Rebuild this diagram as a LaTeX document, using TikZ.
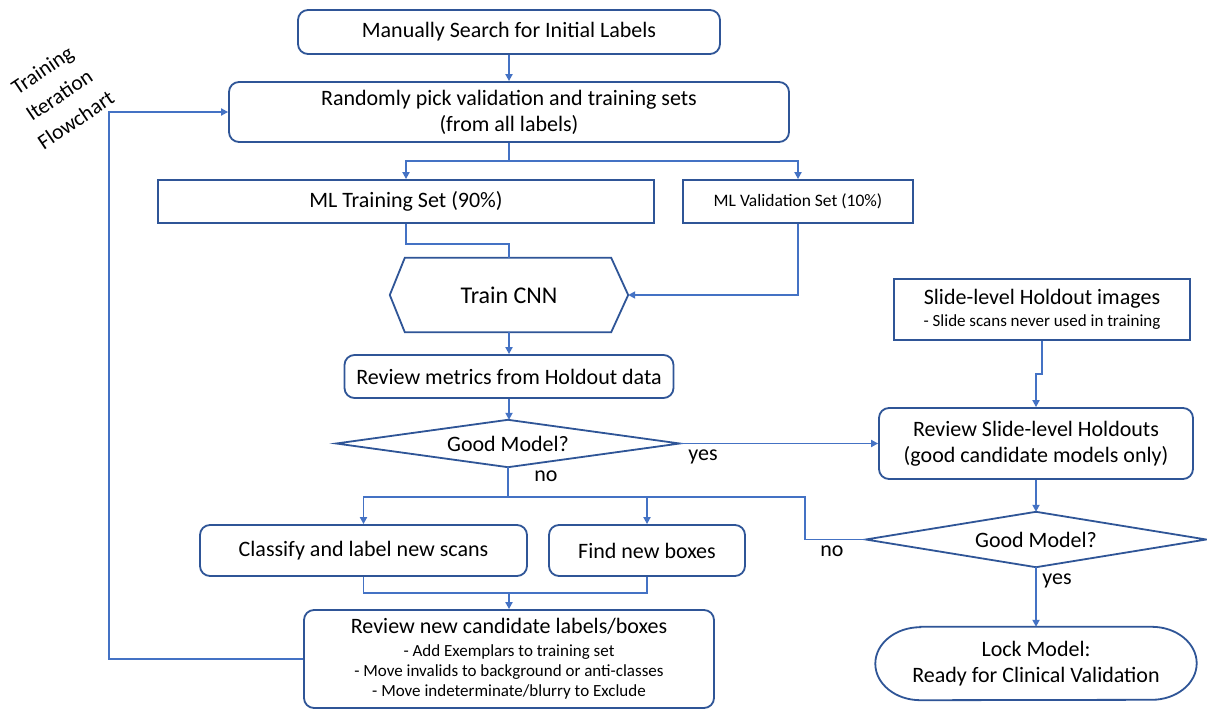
\documentclass[tikz,border=0pt]{standalone}
\usepackage{fontspec}
\setmainfont{Carlito}
\usetikzlibrary{arrows.meta,calc}
\definecolor{boxblue}{HTML}{2F5597}
\definecolor{linkblue}{HTML}{4472C4}
\newcommand{\bigtxt}{\fontsize{22}{26}\selectfont}
\newcommand{\smltxt}{\fontsize{17}{19}\selectfont}
\begin{document}
\begin{tikzpicture}[x=1pt,y=-1pt,
  every node/.style={inner sep=0pt,align=center,font=\bigtxt},
  rbox/.style={draw=boxblue,line width=1.8pt,rounded corners=10pt,fill=white},
  sbox/.style={draw=boxblue,line width=1.8pt,fill=white},
  ghost/.style={draw=none},
  shapeline/.style={draw=boxblue,line width=1.8pt,line join=miter},
  conn/.style={draw=linkblue,line width=1.8pt},
  arr/.style={conn,-{Triangle[length=7pt,width=7pt]}},
  lbl/.style={font=\bigtxt}]
\useasboundingbox (0,0) rectangle (1207,711);
\fill[white] (0,0) rectangle (1207,711);

\node[lbl,rotate=34,align=center,font=\fontsize{21.5}{30}\selectfont] (title) at (59,95) {Training\\Iteration\\Flowchart};

\node[rbox,minimum width=422,minimum height=44] (n1) at (509,32) {Manually Search for Initial Labels};
\node[rbox,minimum width=560,minimum height=60] (n2) at (509,112) {Randomly pick validation and training sets\\(from all labels)};
\node[sbox,minimum width=496,minimum height=43] (n3) at (406,201.5) {ML Training Set (90\%)};
\node[sbox,minimum width=230,minimum height=43,font=\fontsize{17.5}{20}\selectfont] (n4) at (798,201.5) {ML Validation Set (10\%)};
\node[ghost,minimum width=238,minimum height=74,font=\fontsize{24}{28}\selectfont] (cnn) at (509,295) {Train CNN};
\draw[shapeline] (cnn.west) -- ([xshift=15pt]cnn.north west) -- ([xshift=-17pt]cnn.north east) -- (cnn.east) -- ([xshift=-17pt]cnn.south east) -- ([xshift=15pt]cnn.south west) -- cycle;
\node[rbox,minimum width=329,minimum height=43] (rm) at (509,376.5) {Review metrics from Holdout data};
\node[ghost,minimum width=343,minimum height=47] (d1) at (508,443.5) {Good Model?};
\draw[shapeline] (d1.west) -- (d1.north) -- (d1.east) -- (d1.south) -- cycle;
\node[rbox,minimum width=327,minimum height=51] (cl) at (363.5,550.5) {Classify and label new scans};
\node[rbox,minimum width=196,minimum height=51] (fb) at (647,550.5) {Find new boxes};
\node[rbox,minimum width=410,minimum height=98] (rc) at (509,659) {Review new candidate labels/boxes\\[-3pt]
  {\smltxt - Add Exemplars to training set}\\[-6pt]
  {\smltxt - Move invalids to background or anti-classes}\\[-6pt]
  {\smltxt - Move indeterminate/blurry to Exclude}};
\node[sbox,minimum width=296,minimum height=61] (sh) at (1042,309.5) {Slide-level Holdout images\\[-4pt]{\smltxt - Slide scans never used in training}};
\node[rbox,minimum width=314,minimum height=71] (rs) at (1036,443.5) {Review Slide-level Holdouts\\(good candidate models only)};
\node[ghost,minimum width=340,minimum height=55] (d2) at (1036,539.5) {Good Model?};
\draw[shapeline] (d2.west) -- (d2.north) -- (d2.east) -- (d2.south) -- cycle;
\node[ghost,minimum width=321,minimum height=73] (lock) at (1036,663.5) {Lock Model:\\Ready for Clinical Validation};
\draw[shapeline] ([xshift=45pt]lock.north west) -- ([xshift=-45pt]lock.north east)
  arc[start angle=90,end angle=-90,x radius=45pt,y radius=36.5pt]
  -- ([xshift=45pt]lock.south west)
  arc[start angle=270,end angle=90,x radius=45pt,y radius=36.5pt] -- cycle;

% labels
\node[lbl] (yes1) at (703,457) {yes};
\node[lbl] (no1) at (546,476) {no};
\node[lbl] (no2) at (832,551) {no};
\node[lbl] (yes2) at (1057,581) {yes};

% connectors
\draw[arr] (n1.south) -- (n1.south |- n2.north);
\draw[arr] (n2.south) -- ++(0,18) -| (n3.north);
\draw[arr] (n2.south) -- ++(0,18) -| (n4.north);
\draw[conn] (n3.south) -- ++(0,20) -| (cnn.north);
\draw[arr] (n4.south) |- (cnn.east);
\draw[arr] (cnn.south) -- (rm.north);
\draw[arr] (rm.south) -- (rm.south |- d1.north);
\draw[arr] (d1.east) -- (rs.west);
\coordinate (j) at (508,497);
\coordinate (k) at (805,497);
\draw[conn] (d1.south) -- (j);
\draw[arr] (j) -| (cl.north);
\draw[arr] (j) -| (fb.north);
\draw[conn] (d2.west) -| (k) -- (j);
\coordinate (m) at (509,593);
\draw[conn] (cl.south) |- (m);
\draw[conn] (fb.south) |- (m);
\draw[arr] (m) -- (rc.north);
\draw[arr] (rc.west) -- ++(-194,0) |- (n2.west);
\draw[arr] (sh.south) -- ++(0,33) -| (rs.north);
\draw[arr] (rs.south) -- (d2.north);
\draw[arr] (d2.south) -- (lock.north);
\end{tikzpicture}
\end{document}
